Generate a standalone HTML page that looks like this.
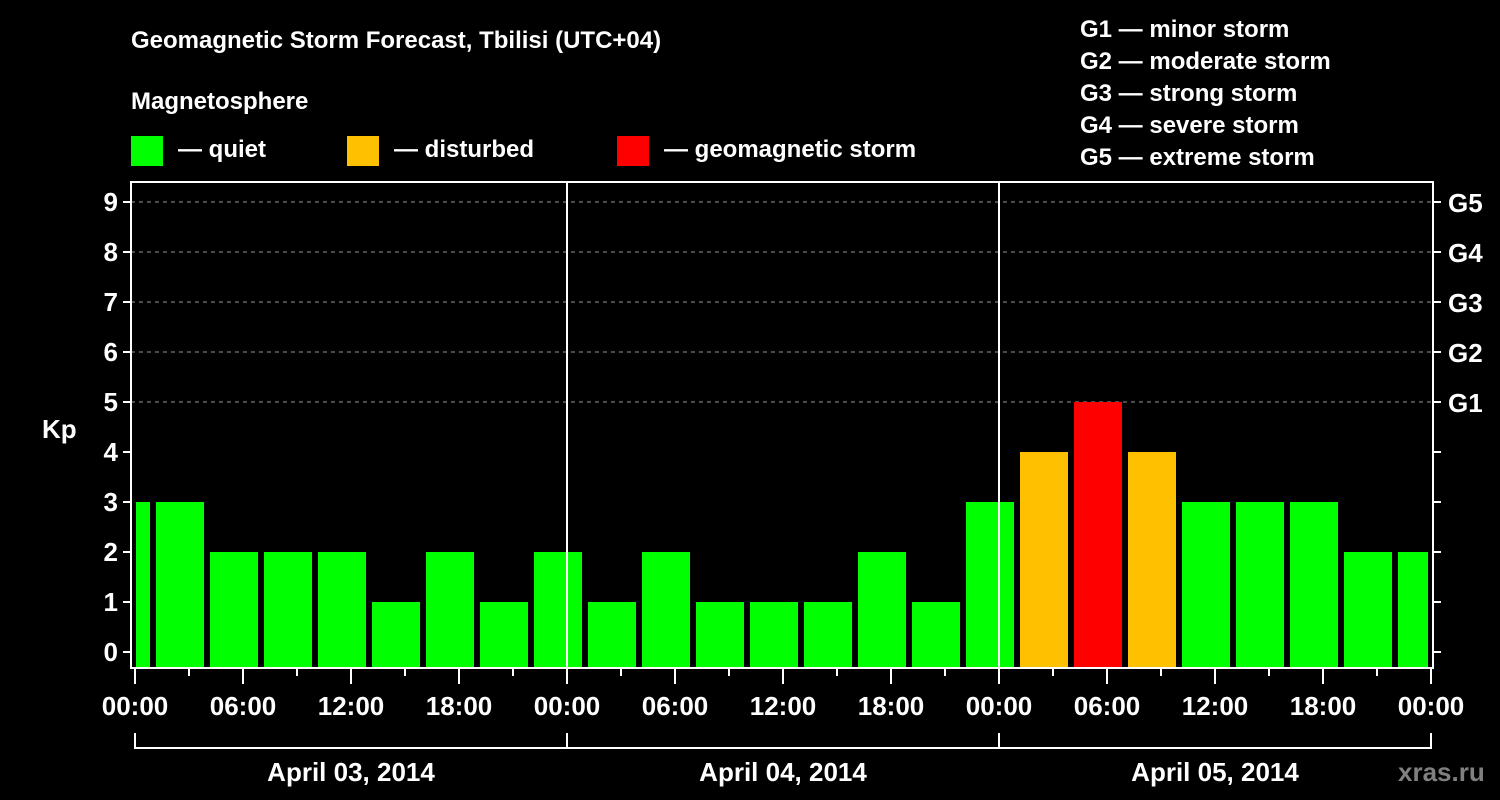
<!DOCTYPE html>
<html><head><meta charset="utf-8"><style>
html,body{margin:0;padding:0;background:#000;width:1500px;height:800px;overflow:hidden}
svg{display:block;font-family:"Liberation Sans",Arial,sans-serif;font-weight:bold}
</style></head><body>
<svg id="chart" width="1500" height="800" xmlns="http://www.w3.org/2000/svg">
<text x="131" y="48" fill="#fff" font-size="24">Geomagnetic Storm Forecast, Tbilisi (UTC+04)</text>
<text x="131" y="109" fill="#fff" font-size="24">Magnetosphere</text>
<g><rect x="131" y="136" width="32" height="30" fill="#00ff00"/><text x="178" y="157" fill="#fff" font-size="24">— quiet</text></g>
<g><rect x="347" y="136" width="32" height="30" fill="#ffc000"/><text x="394" y="157" fill="#fff" font-size="24">— disturbed</text></g>
<g><rect x="617" y="136" width="32" height="30" fill="#ff0000"/><text x="664" y="157" fill="#fff" font-size="24">— geomagnetic storm</text></g>
<g fill="#fff" font-size="24">
<text x="1080" y="37">G1 — minor storm</text>
<text x="1080" y="69">G2 — moderate storm</text>
<text x="1080" y="101">G3 — strong storm</text>
<text x="1080" y="133">G4 — severe storm</text>
<text x="1080" y="165">G5 — extreme storm</text>
</g>
<text x="42" y="438" fill="#fff" font-size="26">Kp</text>
<text x="1398" y="781" fill="#808080" font-size="26" text-anchor="start">xras.ru</text>
<g id="grid"></g><g id="bars"></g><g id="axes"></g>
</svg>
<script>
const kpValues=[3,3,2,2,2,1,2,1,2,1,2,1,1,1,2,1,3,4,5,4,3,3,3,2,2];
const barStartIndex=-1;
const yTicks=[0,1,2,3,4,5,6,7,8,9];
const gLabels=["G1","G2","G3","G4","G5"];
const gLevels=[5,6,7,8,9];
const xTickLabels=["00:00","06:00","12:00","18:00","00:00","06:00","12:00","18:00","00:00","06:00","12:00","18:00","00:00"];
const dayLabels=["April 03, 2014","April 04, 2014","April 05, 2014"];

const NS="http://www.w3.org/2000/svg";
const L=131,R=1433,T=182,B=668,X0=135,HOUR=18,Y0=652,UNIT=50;
const x=h=>X0+h*HOUR, y=v=>Y0-v*UNIT;
function mk(p,tag,a){const e=document.createElementNS(NS,tag);for(const k in a)e.setAttribute(k,a[k]);p.appendChild(e);return e;}
const grid=document.getElementById('grid'),bars=document.getElementById('bars'),axes=document.getElementById('axes');
function color(v){return v>=5?"#ff0000":v>=4?"#ffc000":"#00ff00";}
gLevels.forEach(v=>{const l=mk(grid,'line',{x1:L,x2:R,y1:y(v),y2:y(v),stroke:"#999","stroke-width":1,"stroke-dasharray":"4,4"});

});
kpValues.forEach((v,i)=>{const k=i+barStartIndex;const c=x(k*3+2.5);let a=c-24,b=c+24;a=Math.max(a,L+5);b=Math.min(b,R-5);
const r=mk(bars,'rect',{x:a,y:y(v),width:b-a,height:B-1-y(v),fill:color(v)});

});
// plot frame
const fr=mk(axes,'rect',{x:L,y:T,width:R-L,height:B-T,fill:"none",stroke:"#fff","stroke-width":2});


[1,2].forEach(d=>{const l=mk(axes,'line',{x1:x(d*24),x2:x(d*24),y1:T,y2:B,stroke:"#fff","stroke-width":2});

});
yTicks.forEach(v=>{mk(axes,'line',{x1:L-8,x2:L,y1:y(v),y2:y(v),stroke:"#fff","stroke-width":2});
mk(axes,'line',{x1:R,x2:R+8,y1:y(v),y2:y(v),stroke:"#fff","stroke-width":2});
const t=mk(axes,'text',{x:L-13,y:y(v)+9,fill:"#fff","font-size":26,"text-anchor":"end"});t.textContent=v;

});
gLabels.forEach((g,i)=>{const t=mk(axes,'text',{x:R+15,y:y(gLevels[i])+10,fill:"#fff","font-size":26});t.textContent=g;

});
for(let h=0;h<=72;h+=3){const major=h%6===0;mk(axes,'line',{x1:x(h),x2:x(h),y1:B,y2:B+(major?16:8),stroke:"#fff","stroke-width":2});}
xTickLabels.forEach((s,i)=>{const t=mk(axes,'text',{x:x(i*6),y:715,fill:"#fff","font-size":26,"text-anchor":"middle"});t.textContent=s;

});
mk(axes,'line',{x1:x(0),x2:x(72),y1:748,y2:748,stroke:"#fff","stroke-width":2});
for(let d=0;d<=3;d++)mk(axes,'line',{x1:x(d*24),x2:x(d*24),y1:733,y2:749,stroke:"#fff","stroke-width":2});
dayLabels.forEach((s,i)=>{const t=mk(axes,'text',{x:x(i*24+12),y:781,fill:"#fff","font-size":26,"text-anchor":"middle"});t.textContent=s;

});
</script>
</body></html>
